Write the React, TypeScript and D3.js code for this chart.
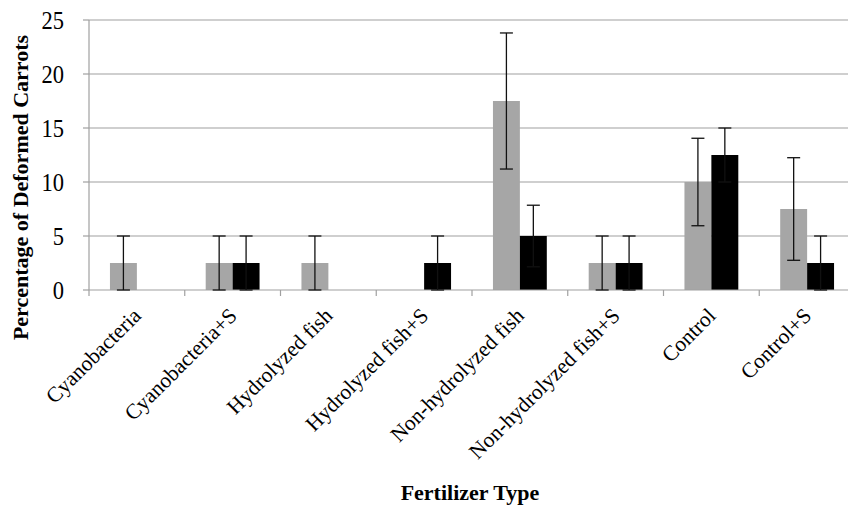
import React from "react";
import * as d3 from "d3";

const categories = [
  "Cyanobacteria",
  "Cyanobacteria+S",
  "Hydrolyzed fish",
  "Hydrolyzed fish+S",
  "Non-hydrolyzed fish",
  "Non-hydrolyzed fish+S",
  "Control",
  "Control+S",
];
const seriesNames = ["Without S", "With S"];
const grayValues = [2.5, 2.5, 2.5, 0, 17.5, 2.5, 10, 7.5];
const grayErrors = [2.5, 2.5, 2.5, 0, 6.3, 2.5, 4.05, 4.75];
const blackValues = [0, 2.5, 0, 2.5, 5, 2.5, 12.5, 2.5];
const blackErrors = [0, 2.5, 0, 2.5, 2.85, 2.5, 2.5, 2.5];
const yTicks = [0, 5, 10, 15, 20, 25];

const W = 848;
const H = 506;
const left = 89;
const right = 855;
const top = 20;
const bottom = 290;

const serif = "'Liberation Serif', 'Times New Roman', serif";

export default function App() {
  const x = d3.scaleBand<string>().domain(categories).range([left, right]).padding(0);
  const x1 = d3
    .scaleBand<string>()
    .domain(seriesNames)
    .range([0, x.bandwidth()])
    .paddingInner(0)
    .paddingOuter(0.778);
  const y = d3.scaleLinear().domain([0, 25]).range([bottom, top]);

  const series = [
    { name: seriesNames[0], values: grayValues, errors: grayErrors, color: "#a6a6a6" },
    { name: seriesNames[1], values: blackValues, errors: blackErrors, color: "#000000" },
  ];
  const gridColor = "#a0a0a0";
  const capHalf = 6.5;

  return (
    <svg
      width={W}
      height={H}
      style={{ position: "absolute", left: 0, top: 0, background: "#fff" }}
    >
      <rect x={0} y={0} width={W} height={H} fill="#fff" />
      {yTicks.map((t) => (
        <g key={t}>
          {t > 0 && (
            <line x1={left} x2={right} y1={y(t)} y2={y(t)} stroke={gridColor} strokeWidth={1.2} />
          )}
          <line x1={left - 6} x2={left} y1={y(t)} y2={y(t)} stroke={gridColor} strokeWidth={1.2} />
          <text
            x={64}
            y={y(t)}
            dy="0.36em"
            textAnchor="end"
            fontFamily={serif}
            fontSize={25}
            fill="#000"
            transform={`translate(64,0) scale(0.9,1) translate(-64,0)`}
          >
            {t}
          </text>
        </g>
      ))}
      <line x1={left} x2={left} y1={top} y2={bottom} stroke={gridColor} strokeWidth={1.2} />
      {series.map((s) =>
        categories.map((c, i) => {
          const v = s.values[i];
          if (v <= 0) return null;
          const bx = (x(c) as number) + (x1(s.name) as number);
          return (
            <rect
              key={s.name + c}
              x={bx}
              y={y(v)}
              width={x1.bandwidth()}
              height={y(0) - y(v)}
              fill={s.color}
            />
          );
        })
      )}
      <line x1={left} x2={right} y1={bottom} y2={bottom} stroke={gridColor} strokeWidth={1.2} />
      {d3.range(categories.length + 1).map((i) => {
        const tx = left + i * x.step();
        return (
          <line key={i} x1={tx} x2={tx} y1={bottom} y2={bottom + 6} stroke={gridColor} strokeWidth={1.2} />
        );
      })}
      {series.map((s) =>
        categories.map((c, i) => {
          const v = s.values[i];
          const e = s.errors[i];
          if (v <= 0 || e <= 0) return null;
          const cx = (x(c) as number) + (x1(s.name) as number) + x1.bandwidth() / 2;
          const y1 = y(v + e);
          const y2 = y(Math.max(0, v - e));
          return (
            <g key={"e" + s.name + c} stroke="#111" strokeWidth={1.3}>
              <line x1={cx} x2={cx} y1={y1} y2={y2} />
              <line x1={cx - capHalf} x2={cx + capHalf} y1={y1} y2={y1} />
              <line x1={cx - capHalf} x2={cx + capHalf} y1={y2} y2={y2} />
            </g>
          );
        })
      )}
      {categories.map((c) => {
        const cx = (x(c) as number) + x.bandwidth() / 2;
        return (
          <text
            key={"l" + c}
            transform={`translate(${cx + 5.5},${317}) rotate(-45)`}
            textAnchor="end"
            fontFamily={serif}
            fontSize={21.5}
            fill="#000"
          >
            {c}
          </text>
        );
      })}
      <text
        transform={`translate(28,187.5) rotate(-90)`}
        textAnchor="middle"
        fontFamily={serif}
        fontWeight="bold"
        fontSize={22}
        fill="#000"
      >
        Percentage of Deformed Carrots
      </text>
      <text
        x={470}
        y={500}
        textAnchor="middle"
        fontFamily={serif}
        fontWeight="bold"
        fontSize={22}
        fill="#000"
      >
        Fertilizer Type
      </text>
    </svg>
  );
}
